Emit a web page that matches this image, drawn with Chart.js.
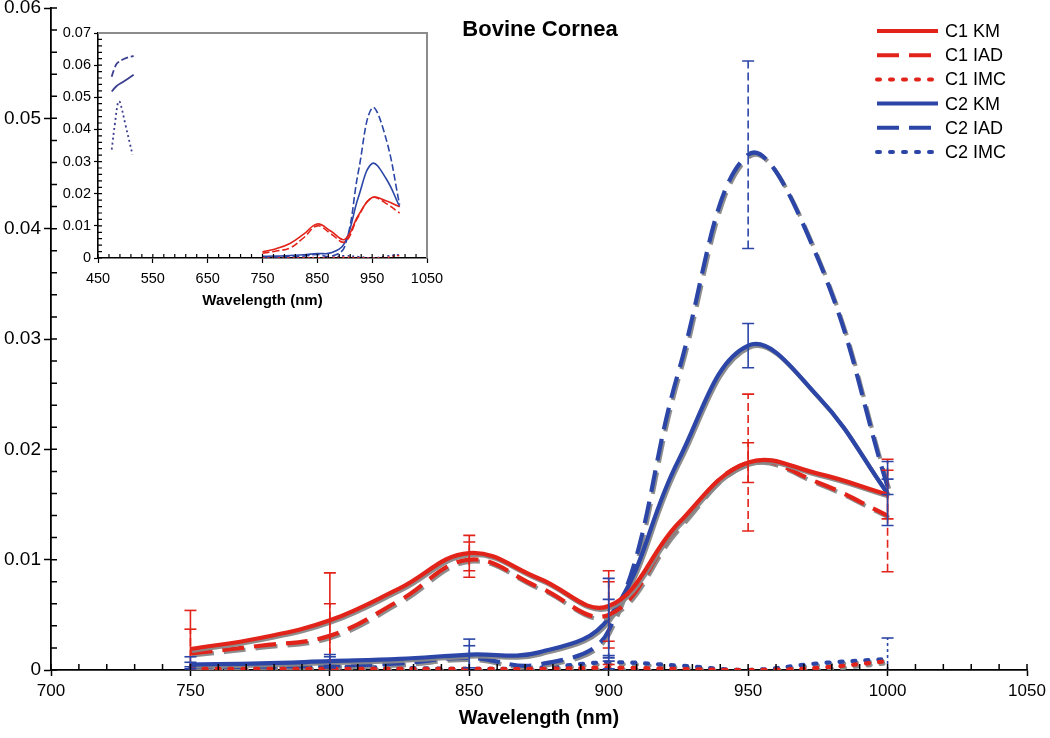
<!DOCTYPE html>
<html><head><meta charset="utf-8">
<script src="https://cdn.jsdelivr.net/npm/chart.js@4.4.1/dist/chart.umd.min.js"></script>
<style>
html,body{margin:0;padding:0;background:#fff;}
#wrap{position:relative;width:1050px;height:738px;background:#fff;}
#main{position:absolute;left:0;top:0;}
#inset{position:absolute;left:58px;top:18px;background:transparent;}
</style></head><body>
<div id="wrap"><canvas id="main" width="1050" height="738"></canvas><canvas id="inset" width="392" height="295"></canvas></div>
<script>
// ---- data ----
const wavelengths = [750, 775, 800, 825, 850, 875, 900, 925, 950, 975, 1000];
const c1KM  = [0.0019, 0.0029, 0.0045, 0.0074, 0.0106, 0.0083, 0.0058, 0.0133, 0.0188, 0.0178, 0.0159];
const c1IAD = [0.0015, 0.0022, 0.0031, 0.0063, 0.0100, 0.0075, 0.0050, 0.0130, 0.0188, 0.0170, 0.0140];
const c1IMC = [0.0001, 0.0001, 0.0001, 0.0001, 0.0001, 0.0001, 0.0002, 0.0001, 0.0000, 0.0002, 0.0008];
const c2KM  = [0.0005, 0.0006, 0.0008, 0.0010, 0.0014, 0.0016, 0.0047, 0.0190, 0.0294, 0.0248, 0.0160];
const c2IAD = [0.0003, 0.0003, 0.0004, 0.0006, 0.0011, 0.0005, 0.0036, 0.0270, 0.0467, 0.0373, 0.0166];
const c2IMC = [0.0002, 0.0002, 0.0003, 0.0002, 0.0001, 0.0002, 0.0007, 0.0004, 0.0000, 0.0006, 0.0010];

const errWavelengths = [750, 800, 850, 900, 950, 1000];
const c1KMErr  = [0.0035, 0.0043, 0.0016, 0.0032, 0.0018, 0.0022];
const c1IADErr = [0.0022, 0.0029, 0.0016, 0.0030, 0.0062, 0.0051];
const c1IMCErr = [0, 0, 0, 0.0003, 0, 0];
const c2KMErr  = [0.0007, 0.0006, 0.0014, 0.0036, 0.0020, 0.0029];
const c2IADErr = [0.0004, 0.0008, 0.0011, 0.0028, 0.0085, 0.0007];
const c2IMCErr = [0.0001, 0.0001, 0.0001, 0.0006, 0, 0.0019];

// inset-only short segments (C2, 475-515 nm)
const insetIADWl = [475, 480, 485, 497, 515];
const insetIAD   = [0.0564, 0.0590, 0.0606, 0.0619, 0.0629];
const insetKMWl  = [475, 484, 494, 515];
const insetKM    = [0.0518, 0.0535, 0.0546, 0.0570];
const insetIMCWl = [475, 481, 487, 490, 500, 513];
const insetIMC   = [0.0337, 0.0420, 0.0488, 0.0485, 0.0415, 0.0321];

const labels = ['C1 KM', 'C1 IAD', 'C1 IMC', 'C2 KM', 'C2 IAD', 'C2 IMC'];
const mainYTicks = [0, 0.01, 0.02, 0.03, 0.04, 0.05, 0.06];
const mainXTicks = [700, 750, 800, 850, 900, 950, 1000, 1050];
const insetYTicks = [0, 0.01, 0.02, 0.03, 0.04, 0.05, 0.06, 0.07];
const insetXTicks = [450, 550, 650, 750, 850, 950, 1050];

// ---- styles ----
const RED = '#e2231a', BLUE = '#2c46a7', INDIGO = '#3c3f8f';
const FONT = "'Liberation Sans', Arial, Helvetica, sans-serif";
const DASH = { KM: [], IAD: [22, 10], IMC: [3, 10] };
const ERRDASH = { KM: [], IAD: [8, 4], IMC: [3, 3] };
const THINDASH = { KM: [], IAD: [7, 3], IMC: [2, 3] };

function pts(xs, ys) { return xs.map((w, i) => ({ x: w, y: ys[i] })); }

function mkDs(label, arr, color, kind, errs) {
  return {
    label, data: pts(wavelengths, arr), borderColor: color, backgroundColor: color,
    borderWidth: 4.2, borderDash: DASH[kind], borderCapStyle: kind === 'IMC' ? 'round' : 'butt',
    pointRadius: 0, fill: false, tension: 0.4,
    errors: errs, errDash: ERRDASH[kind]
  };
}

// ---- plugins ----
const shadowPlugin = {
  id: 'lineShadow',
  beforeDatasetDraw(chart, args, o) {
    if (!o.enabled) return;
    const ctx = chart.ctx; ctx.save();
    ctx.shadowColor = 'rgba(135,135,135,0.95)'; ctx.shadowOffsetX = 1.5; ctx.shadowOffsetY = 2; ctx.shadowBlur = 0;
  },
  afterDatasetDraw(chart, args, o) { if (!o.enabled) return; chart.ctx.restore(); }
};

const errorBars = {
  id: 'errorBars',
  afterDatasetsDraw(chart, args, o) {
    if (!o.enabled) return;
    const { ctx, scales: { x, y } } = chart;
    ctx.save(); ctx.lineWidth = 1.6;
    chart.data.datasets.forEach(ds => {
      if (!ds.errors) return;
      ctx.strokeStyle = ds.borderColor;
      errWavelengths.forEach((w, j) => {
        const e = ds.errors[j]; if (!e) return;
        const v = ds.data[wavelengths.indexOf(w)].y;
        const px = x.getPixelForValue(w);
        const yt = y.getPixelForValue(v + e), yb = y.getPixelForValue(Math.max(0, v - e));
        ctx.setLineDash(ds.errDash);
        ctx.beginPath(); ctx.moveTo(px, yb); ctx.lineTo(px, yt); ctx.stroke();
        ctx.setLineDash([]);
        ctx.beginPath(); ctx.moveTo(px - 6, yt); ctx.lineTo(px + 6, yt);
        if (v - e > 0) { ctx.moveTo(px - 6, yb); ctx.lineTo(px + 6, yb); }
        ctx.stroke();
      });
    });
    ctx.restore();
  }
};

const minorTicks = {
  id: 'minorTicks',
  afterDraw(chart, args, o) {
    const { ctx, scales: { x, y }, chartArea: a } = chart;
    ctx.save(); ctx.strokeStyle = '#000'; ctx.lineWidth = o.width; ctx.beginPath();
    const nx = Math.round((x.max - x.min) / o.xStep);
    for (let k = 0; k <= nx; k++) { const px = x.getPixelForValue(x.min + k * o.xStep); ctx.moveTo(px, a.bottom); ctx.lineTo(px, a.bottom - o.len); }
    const ny = Math.round((y.max - y.min) / o.yStep);
    for (let k = 0; k <= ny; k++) { const py = y.getPixelForValue(y.min + k * o.yStep); ctx.moveTo(a.left, py); ctx.lineTo(a.left + o.len, py); }
    ctx.stroke();
    if (o.frame) {
      ctx.strokeStyle = '#8c8c8c'; ctx.lineWidth = 2; ctx.beginPath();
      ctx.moveTo(a.left, a.top); ctx.lineTo(a.right, a.top); ctx.lineTo(a.right, a.bottom); ctx.stroke();
    }
    ctx.restore();
  }
};

const insetBg = {
  id: 'insetBg',
  beforeDraw(chart, args, o) {
    if (!o.enabled) return;
    const { ctx } = chart; ctx.save(); ctx.fillStyle = '#fff';
    ctx.fillRect(0, 0, chart.width - 18, chart.height); ctx.restore();
  }
};

const legendTitle = {
  id: 'legendTitle',
  afterDraw(chart, args, o) {
    if (!o.enabled) return;
    const ctx = chart.ctx; ctx.save();
    ctx.fillStyle = '#000'; ctx.font = 'bold 22px ' + FONT; ctx.textAlign = 'center'; ctx.textBaseline = 'middle';
    ctx.fillText('Bovine Cornea', 540, 30);
    ctx.font = '18px ' + FONT; ctx.textAlign = 'left';
    chart.data.datasets.forEach((ds, i) => {
      const yy = 31 + i * 24.2;
      ctx.strokeStyle = ds.borderColor; ctx.lineWidth = 4; ctx.setLineDash(ds.borderDash); ctx.lineCap = ds.borderCapStyle;
      ctx.beginPath(); ctx.moveTo(877, yy); ctx.lineTo(938, yy); ctx.stroke();
      ctx.setLineDash([]); ctx.fillStyle = '#000'; ctx.fillText(ds.label, 945, yy + 1);
    });
    ctx.restore();
  }
};

// ---- main chart ----
new Chart(document.getElementById('main'), {
  type: 'line',
  data: {
    datasets: [
      mkDs(labels[0], c1KM, RED, 'KM', c1KMErr),
      mkDs(labels[1], c1IAD, RED, 'IAD', c1IADErr),
      mkDs(labels[2], c1IMC, RED, 'IMC', c1IMCErr),
      mkDs(labels[3], c2KM, BLUE, 'KM', c2KMErr),
      mkDs(labels[4], c2IAD, BLUE, 'IAD', c2IADErr),
      mkDs(labels[5], c2IMC, BLUE, 'IMC', c2IMCErr)
    ]
  },
  options: {
    responsive: false, animation: false, devicePixelRatio: 1,
    layout: { padding: { top: 8, right: 23, left: 0, bottom: 0 } },
    plugins: {
      legend: { display: false }, tooltip: { enabled: false }, title: { display: false },
      lineShadow: { enabled: true }, errorBars: { enabled: true }, insetBg: { enabled: false },
      minorTicks: { xStep: 10, yStep: 0.002, len: 6, width: 1.5, frame: false },
      legendTitle: { enabled: true }
    },
    scales: {
      x: {
        type: 'linear', min: 700, max: 1050,
        afterBuildTicks: s => { s.ticks = mainXTicks.map(v => ({ value: v })); },
        afterFit: s => { s.height = 68; s.paddingLeft = 0; s.paddingRight = 0; },
        border: { display: true, color: '#000', width: 1.8 },
        grid: { display: true, drawOnChartArea: false, drawTicks: true, tickLength: 6, color: '#000', tickWidth: 1.5 },
        ticks: { color: '#000', font: { family: FONT, size: 17 }, padding: 5, maxRotation: 0, autoSkip: false, callback: v => String(v) },
        title: { display: true, text: 'Wavelength (nm)', color: '#000', font: { family: FONT, size: 20, weight: 'bold' }, padding: { top: 0, bottom: 8 } }
      },
      y: {
        type: 'linear', min: 0, max: 0.06,
        afterBuildTicks: s => { s.ticks = mainYTicks.map(v => ({ value: v })); },
        afterFit: s => { s.width = 51; s.paddingTop = 0; s.paddingBottom = 0; },
        border: { display: true, color: '#000', width: 1.8 },
        grid: { display: true, drawOnChartArea: false, drawTicks: true, tickLength: 7, color: '#000', tickWidth: 1.5 },
        ticks: { color: '#000', font: { family: FONT, size: 19 }, padding: 3, autoSkip: false, callback: v => v === 0 ? '0' : v.toFixed(2) }
      }
    }
  },
  plugins: [shadowPlugin, errorBars, minorTicks, legendTitle, insetBg]
});

// ---- inset chart ----
function seg(label, xs, ys, kind) {
  return { label, data: pts(xs, ys), borderColor: INDIGO, borderWidth: 1.8, borderDash: THINDASH[kind],
    pointRadius: 0, fill: false, tension: 0.4 };
}
function thin(label, arr, color, kind) {
  return { label, data: pts(wavelengths, arr), borderColor: color, borderWidth: 1.6,
    borderDash: THINDASH[kind], pointRadius: 0, fill: false, tension: 0.4 };
}
new Chart(document.getElementById('inset'), {
  type: 'line',
  data: {
    datasets: [
      thin(labels[0], c1KM, RED, 'KM'), thin(labels[1], c1IAD, RED, 'IAD'), thin(labels[2], c1IMC, RED, 'IMC'),
      thin(labels[3], c2KM, BLUE, 'KM'), thin(labels[4], c2IAD, BLUE, 'IAD'), thin(labels[5], c2IMC, BLUE, 'IMC'),
      seg('C2 KM (short)', insetKMWl, insetKM, 'KM'),
      seg('C2 IAD (short)', insetIADWl, insetIAD, 'IAD'),
      seg('C2 IMC (short)', insetIMCWl, insetIMC, 'IMC')
    ]
  },
  options: {
    responsive: false, animation: false, devicePixelRatio: 1,
    layout: { padding: { top: 15, right: 23, left: 0, bottom: 0 } },
    plugins: {
      legend: { display: false }, tooltip: { enabled: false }, title: { display: false },
      lineShadow: { enabled: false }, errorBars: { enabled: false }, legendTitle: { enabled: false }, insetBg: { enabled: true },
      minorTicks: { xStep: 20, yStep: 0.002, len: 4, width: 1.2, frame: true }
    },
    scales: {
      x: {
        type: 'linear', min: 450, max: 1050,
        afterBuildTicks: s => { s.ticks = insetXTicks.map(v => ({ value: v })); },
        afterFit: s => { s.height = 55; s.paddingLeft = 0; s.paddingRight = 0; },
        border: { display: true, color: '#000', width: 1.6 },
        grid: { display: true, drawOnChartArea: false, drawTicks: true, tickLength: 5, color: '#000', tickWidth: 1.2 },
        ticks: { color: '#000', font: { family: FONT, size: 14.5 }, padding: 7, maxRotation: 0, autoSkip: false, callback: v => String(v) },
        title: { display: true, text: 'Wavelength (nm)', color: '#000', font: { family: FONT, size: 15, weight: 'bold' }, padding: { top: 0, bottom: 3 } }
      },
      y: {
        type: 'linear', min: 0, max: 0.07,
        afterBuildTicks: s => { s.ticks = insetYTicks.map(v => ({ value: v })); },
        afterFit: s => { s.width = 40; s.paddingTop = 0; s.paddingBottom = 0; },
        border: { display: true, color: '#000', width: 1.6 },
        grid: { display: true, drawOnChartArea: false, drawTicks: true, tickLength: 4, color: '#000', tickWidth: 1.2 },
        ticks: { color: '#000', font: { family: FONT, size: 14.5 }, padding: 3, autoSkip: false, callback: v => v === 0 ? '0' : v.toFixed(2) }
      }
    }
  },
  plugins: [insetBg, shadowPlugin, errorBars, minorTicks, legendTitle]
});
</script>
</body></html>
